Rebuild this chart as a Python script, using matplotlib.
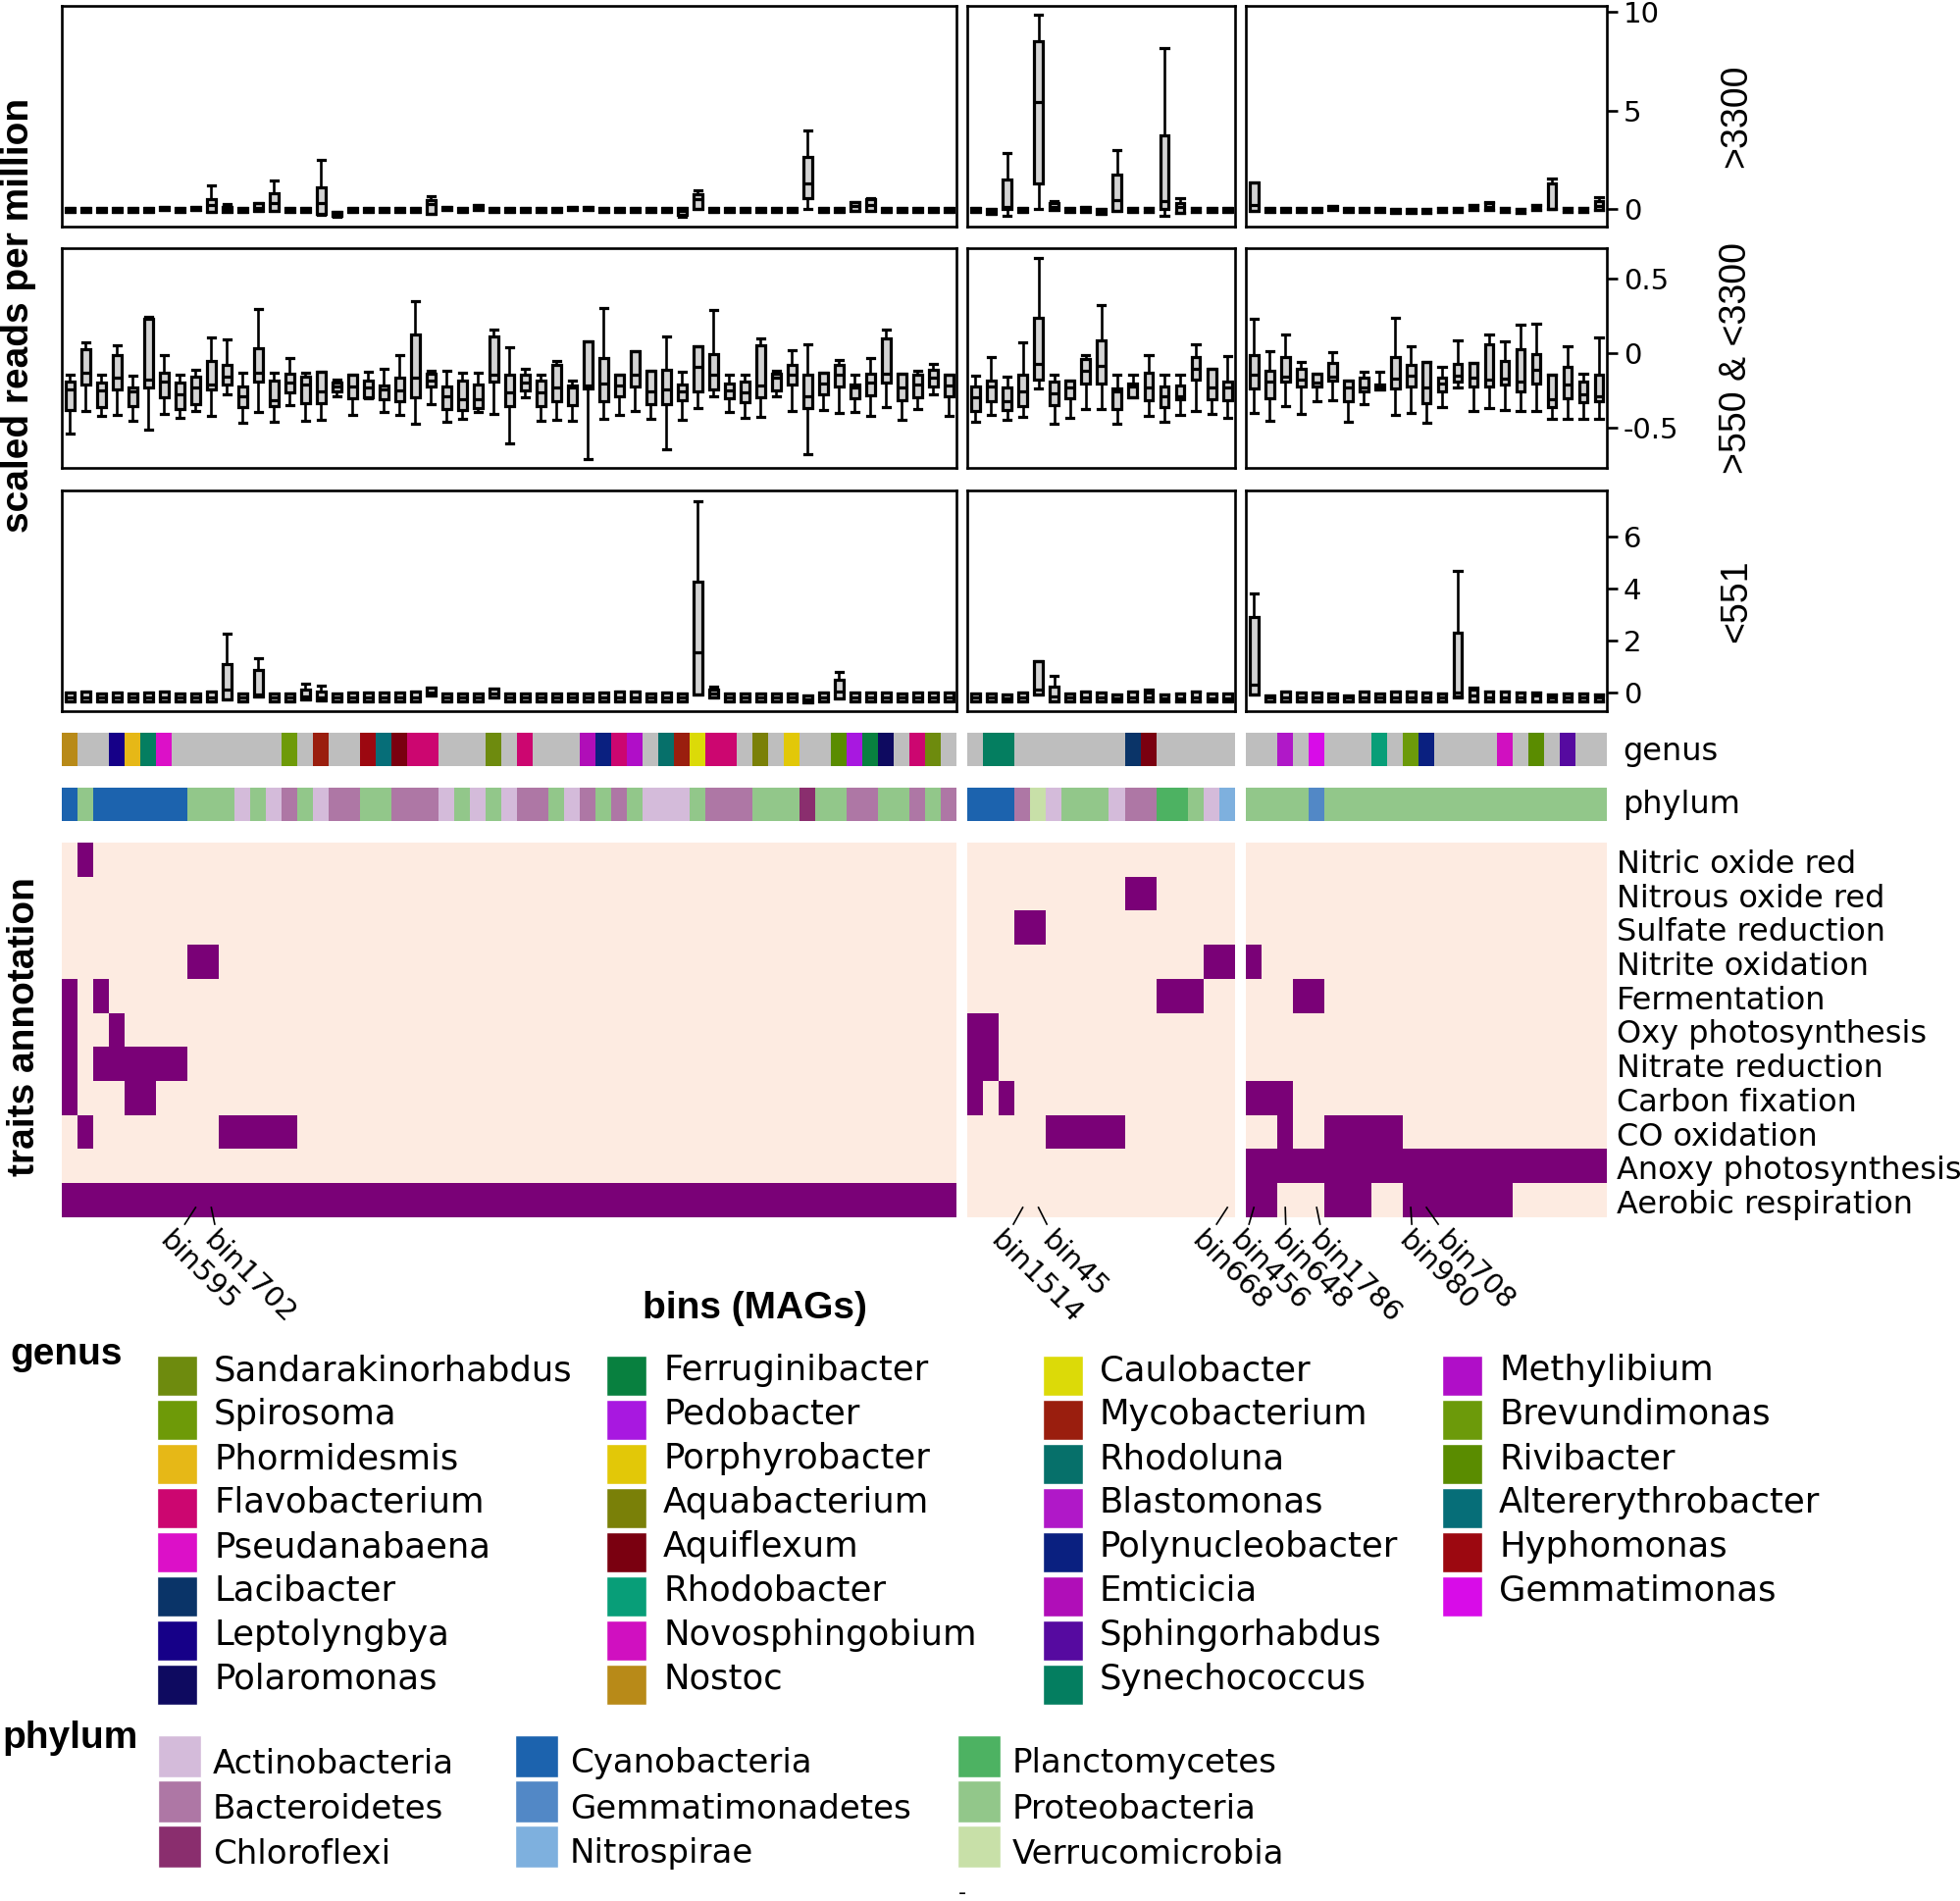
import matplotlib
matplotlib.use("Agg")
import matplotlib.pyplot as plt
from matplotlib.colors import ListedColormap, to_rgb
from matplotlib.lines import Line2D
from matplotlib.patches import Rectangle
import numpy as np

plt.rcParams['font.family'] = ['DejaVu Sans']
plt.rcParams['axes.unicode_minus'] = False

# ------------------------------------------------------------------ data
panel_sizes = [57, 17, 23]          # bins per column panel
row_names = [">3300", ">550 & <3300", "<551"]
row_ticks = [[0, 5, 10], [-0.5, 0, 0.5], [0, 2, 4, 6]]
row_ticklabels = [["0", "5", "10"], ["-0.5", "0", "0.5"], ["0", "2", "4", "6"]]
row_ylims = [(-0.86, 10.29), (-0.77, 0.70), (-0.72, 7.79)]

# ---- row 1 (>3300): left 57 | middle 17 | right 23
r1_q1 = [-0.15,-0.15,-0.15,-0.15,-0.15,-0.15,-0.05,-0.15,-0.05,-0.13, -0.13,-0.15,-0.08,-0.08,-0.15,-0.15,-0.25,-0.35,-0.15,-0.15,
         -0.15,-0.15,-0.15,-0.25,-0.05,-0.15,-0.05,-0.15,-0.15,-0.15, -0.15,-0.15,-0.05,-0.05,-0.15,-0.15,-0.15,-0.15,-0.15,-0.3,
         0.0,-0.15,-0.15,-0.15,-0.15,-0.15,-0.15,0.55,-0.15,-0.15, -0.08,-0.08,-0.15,-0.15,-0.15,-0.15,-0.15,
         -0.15,-0.25,0.0,-0.15,1.32,-0.05,-0.15,-0.15,-0.25,-0.08,-0.15,-0.15,0.0,-0.2,-0.15,-0.15,-0.15,
         -0.08,-0.15,-0.15,-0.15,-0.15,-0.05,-0.15,-0.15,-0.15,-0.2,-0.2,-0.2,-0.15,-0.15,-0.05,-0.05,-0.15,-0.2,-0.05,0.0,-0.15,-0.15,-0.05]
r1_med = [-0.03,-0.03,-0.03,-0.03,-0.03,-0.03,0.0,-0.03,0.0,0.2, 0.0,-0.03,0.08,0.33,-0.03,-0.03,0.33,-0.25,-0.03,-0.03,
          -0.03,-0.03,-0.03,0.25,0.0,-0.03,0.05,-0.03,-0.03,-0.03, -0.03,-0.03,0.0,0.0,-0.03,-0.03,-0.03,-0.03,-0.03,-0.1,
          0.5,-0.03,-0.03,-0.03,-0.03,-0.03,-0.03,1.3,-0.03,-0.03, 0.15,0.2,-0.03,-0.03,-0.03,-0.03,-0.03,
          -0.03,-0.12,0.1,-0.03,5.45,0.1,-0.03,-0.03,-0.12,0.45,-0.03,-0.03,0.4,0.1,-0.03,-0.03,-0.03,
          0.2,-0.03,-0.03,-0.03,-0.03,0.05,-0.03,-0.03,-0.03,-0.08,-0.08,-0.08,-0.03,-0.03,0.05,0.1,-0.03,-0.08,0.05,0.0,-0.03,-0.03,0.15]
r1_q3 = [0.08,0.08,0.08,0.08,0.08,0.08,0.14,0.08,0.12,0.53, 0.12,0.08,0.33,0.83,0.08,0.08,1.13,-0.15,0.08,0.08,
         0.08,0.08,0.08,0.47,0.14,0.08,0.2,0.08,0.08,0.08, 0.08,0.08,0.12,0.12,0.08,0.08,0.08,0.08,0.08,0.08,
         0.75,0.08,0.08,0.08,0.08,0.08,0.08,2.67,0.08,0.08, 0.37,0.53,0.08,0.08,0.08,0.08,0.08,
         0.08,0.02,1.5,0.08,8.5,0.33,0.08,0.12,0.02,1.74,0.08,0.08,3.72,0.33,0.08,0.08,0.08,
         1.35,0.08,0.08,0.08,0.08,0.15,0.08,0.08,0.08,0.02,0.02,0.02,0.08,0.08,0.2,0.33,0.08,0.02,0.2,1.32,0.08,0.08,0.4]
r1_lo = [-0.15,-0.15,-0.15,-0.15,-0.15,-0.15,-0.05,-0.15,-0.05,-0.13, -0.13,-0.15,-0.08,-0.08,-0.15,-0.15,-0.3,-0.38,-0.15,-0.15,
         -0.15,-0.15,-0.15,-0.25,-0.05,-0.15,-0.05,-0.15,-0.15,-0.15, -0.15,-0.15,-0.05,-0.05,-0.15,-0.15,-0.15,-0.15,-0.15,-0.38,
         0.0,-0.15,-0.15,-0.15,-0.15,-0.15,-0.15,0.0,-0.15,-0.15, -0.08,-0.08,-0.15,-0.15,-0.15,-0.15,-0.15,
         -0.15,-0.25,-0.33,-0.15,0.0,-0.05,-0.15,-0.15,-0.25,-0.08,-0.15,-0.15,-0.33,-0.2,-0.15,-0.15,-0.15,
         -0.08,-0.15,-0.15,-0.15,-0.15,-0.05,-0.15,-0.15,-0.15,-0.2,-0.2,-0.2,-0.15,-0.15,-0.05,-0.05,-0.15,-0.2,-0.05,0.0,-0.15,-0.15,-0.05]
r1_hi = [0.08,0.08,0.08,0.08,0.08,0.08,0.14,0.08,0.12,1.2, 0.25,0.08,0.33,1.46,0.08,0.08,2.5,-0.15,0.08,0.08,
         0.08,0.08,0.08,0.67,0.14,0.08,0.2,0.08,0.08,0.08, 0.08,0.08,0.12,0.12,0.08,0.08,0.08,0.08,0.08,0.08,
         0.95,0.08,0.08,0.08,0.08,0.08,0.08,3.97,0.08,0.08, 0.37,0.58,0.08,0.08,0.08,0.08,0.08,
         0.08,0.02,2.85,0.08,9.83,0.4,0.08,0.12,0.02,2.98,0.08,0.08,8.15,0.55,0.08,0.08,0.08,
         1.35,0.08,0.08,0.08,0.08,0.15,0.08,0.08,0.08,0.02,0.02,0.02,0.08,0.08,0.2,0.35,0.08,0.02,0.2,1.57,0.08,0.08,0.62]

# ---- row 2 (>550 & <3300)
r2_lo = [-0.538,-0.385,-0.422,-0.413,-0.451,-0.512,-0.407,-0.435,-0.389,-0.418, -0.275,-0.466,-0.391,-0.457,-0.345,-0.451,-0.444,-0.286,-0.413,-0.301,
         -0.391,-0.413,-0.473,-0.341,-0.457,-0.440,-0.396,-0.407,-0.604,-0.297, -0.455,-0.444,-0.455,-0.710,-0.440,-0.411,-0.385,-0.440,-0.644,-0.444,
         -0.369,-0.292,-0.396,-0.435,-0.429,-0.292,-0.385,-0.675,-0.380,-0.400, -0.391,-0.422,-0.363,-0.446,-0.374,-0.275,-0.418,
         -0.462,-0.413,-0.444,-0.429,-0.237,-0.473,-0.435,-0.374,-0.374,-0.473,-0.297,-0.418,-0.462,-0.413,-0.389,-0.407,-0.435,
         -0.402,-0.451,-0.356,-0.407,-0.325,-0.314,-0.462,-0.341,-0.242,-0.411,-0.400,-0.468,-0.363,-0.231,-0.385,-0.367,-0.378,-0.385,-0.385,-0.440,-0.440,-0.440,-0.440]
r2_q1 = [-0.380,-0.209,-0.363,-0.242,-0.352,-0.231,-0.297,-0.374,-0.341,-0.242, -0.213,-0.358,-0.191,-0.356,-0.264,-0.334,-0.334,-0.253,-0.301,-0.297,
         -0.308,-0.323,-0.297,-0.226,-0.374,-0.380,-0.367,-0.191,-0.352,-0.248, -0.356,-0.323,-0.345,-0.235,-0.319,-0.286,-0.224,-0.341,-0.341,-0.314,
         -0.253,-0.242,-0.301,-0.330,-0.297,-0.248,-0.209,-0.367,-0.275,-0.226, -0.303,-0.281,-0.198,-0.314,-0.297,-0.224,-0.286,
         -0.385,-0.319,-0.378,-0.352,-0.176,-0.345,-0.301,-0.202,-0.204,-0.374,-0.297,-0.312,-0.358,-0.308,-0.180,-0.308,-0.312,
         -0.235,-0.303,-0.191,-0.226,-0.226,-0.187,-0.325,-0.257,-0.242,-0.235,-0.226,-0.334,-0.253,-0.191,-0.224,-0.226,-0.209,-0.257,-0.202,-0.363,-0.301,-0.330,-0.325]
r2_med = [-0.242,-0.132,-0.248,-0.165,-0.253,-0.176,-0.191,-0.275,-0.231,-0.209, -0.160,-0.286,-0.132,-0.314,-0.198,-0.209,-0.253,-0.226,-0.226,-0.231,
          -0.242,-0.248,-0.165,-0.182,-0.286,-0.308,-0.308,-0.143,-0.264,-0.198, -0.264,-0.231,-0.231,-0.220,-0.204,-0.220,-0.143,-0.253,-0.242,-0.257,
          -0.095,-0.147,-0.248,-0.264,-0.220,-0.165,-0.143,-0.292,-0.204,-0.143, -0.231,-0.198,-0.138,-0.231,-0.209,-0.165,-0.220,
          -0.297,-0.226,-0.319,-0.253,-0.070,-0.270,-0.231,-0.121,-0.088,-0.257,-0.226,-0.231,-0.286,-0.286,-0.103,-0.231,-0.231,
          -0.147,-0.191,-0.160,-0.176,-0.198,-0.160,-0.231,-0.231,-0.224,-0.172,-0.154,-0.231,-0.202,-0.154,-0.165,-0.176,-0.169,-0.193,-0.110,-0.308,-0.209,-0.275,-0.292]
r2_q3 = [-0.191,0.029,-0.198,-0.015,-0.231,0.231,-0.132,-0.198,-0.160,-0.055, -0.081,-0.226,0.033,-0.187,-0.138,-0.160,-0.125,-0.198,-0.147,-0.187,
         -0.220,-0.165,0.125,-0.138,-0.226,-0.187,-0.209,0.110,-0.143,-0.143, -0.187,-0.077,-0.220,0.077,-0.033,-0.147,0.015,-0.116,-0.110,-0.209,
         0.048,-0.004,-0.204,-0.193,0.055,-0.138,-0.077,-0.143,-0.132,-0.081, -0.209,-0.136,0.095,-0.136,-0.147,-0.114,-0.143,
         -0.226,-0.182,-0.231,-0.147,0.235,-0.191,-0.182,-0.037,0.084,-0.235,-0.204,-0.132,-0.226,-0.220,-0.026,-0.103,-0.191,
         -0.011,-0.116,-0.026,-0.103,-0.138,-0.066,-0.187,-0.165,-0.209,-0.029,-0.081,-0.062,-0.165,-0.071,-0.066,0.062,-0.055,0.029,-0.004,-0.143,-0.095,-0.191,-0.147]
r2_hi = [-0.147,0.070,-0.147,0.051,-0.149,0.242,-0.015,-0.147,-0.110,0.103, 0.092,-0.132,0.297,-0.132,-0.033,-0.132,-0.125,-0.176,-0.147,-0.125,
         -0.103,-0.015,0.345,-0.116,-0.116,-0.132,-0.132,0.158,0.037,-0.105, -0.143,-0.051,-0.187,0.081,0.301,-0.147,0.015,-0.116,0.114,-0.125,
         0.048,0.286,-0.147,-0.143,0.095,-0.116,0.022,0.062,-0.132,-0.044, -0.147,-0.033,0.160,-0.136,-0.121,-0.073,-0.143,
         -0.149,-0.029,-0.158,0.073,0.637,-0.147,-0.182,-0.011,0.323,-0.147,-0.147,-0.011,-0.143,-0.143,0.062,-0.103,-0.022,
         0.227,0.015,0.127,-0.062,-0.138,0.007,-0.187,-0.125,-0.125,0.235,0.048,-0.062,-0.095,0.088,-0.066,0.125,0.077,0.191,0.198,-0.143,0.044,-0.138,0.105]

# ---- row 3 (<551)
r3_q1 = [-0.33,-0.33,-0.33,-0.33,-0.33,-0.33,-0.33,-0.33,-0.33,-0.33, -0.25,-0.33,-0.15,-0.33,-0.33,-0.25,-0.3,-0.33,-0.33,-0.33,
         -0.33,-0.33,-0.33,-0.13,-0.33,-0.33,-0.33,-0.18,-0.33,-0.33, -0.33,-0.33,-0.33,-0.33,-0.33,-0.33,-0.33,-0.33,-0.33,-0.33,
         -0.09,-0.2,-0.33,-0.33,-0.33,-0.33,-0.33,-0.38,-0.33,-0.21, -0.33,-0.33,-0.33,-0.33,-0.33,-0.33,-0.33,
         -0.33,-0.33,-0.33,-0.33,-0.09,-0.34,-0.33,-0.33,-0.33,-0.33,-0.33,-0.33,-0.33,-0.33,-0.33,-0.33,-0.33,
         -0.09,-0.33,-0.33,-0.33,-0.33,-0.33,-0.33,-0.33,-0.33,-0.33,-0.33,-0.33,-0.33,-0.15,-0.33,-0.33,-0.33,-0.33,-0.33,-0.33,-0.33,-0.33,-0.33]
r3_med = [-0.18,-0.18,-0.18,-0.18,-0.18,-0.18,-0.18,-0.18,-0.18,-0.18, 0.1,-0.18,-0.09,-0.18,-0.18,-0.15,-0.18,-0.18,-0.18,-0.18,
          -0.18,-0.18,-0.18,0.0,-0.18,-0.18,-0.18,-0.05,-0.18,-0.18, -0.18,-0.18,-0.18,-0.18,-0.18,-0.18,-0.18,-0.18,-0.18,-0.18,
          1.55,-0.05,-0.18,-0.18,-0.18,-0.18,-0.18,-0.25,-0.18,0.05, -0.18,-0.18,-0.18,-0.18,-0.18,-0.18,-0.18,
          -0.18,-0.18,-0.22,-0.18,0.1,-0.15,-0.18,-0.18,-0.18,-0.22,-0.18,-0.18,-0.22,-0.22,-0.18,-0.22,-0.22,
          0.29,-0.18,-0.18,-0.18,-0.18,-0.18,-0.18,-0.18,-0.18,-0.2,-0.18,-0.18,-0.18,0.0,-0.1,-0.18,-0.18,-0.18,-0.1,-0.2,-0.18,-0.18,-0.18]
r3_q3 = [0.0,0.05,-0.05,0.0,-0.05,-0.02,0.05,-0.05,-0.05,0.05, 1.08,-0.05,0.86,-0.05,-0.05,0.13,0.04,-0.05,-0.02,-0.02,
         -0.02,-0.02,0.05,0.18,-0.05,-0.05,-0.05,0.16,-0.05,-0.05, -0.05,-0.05,-0.05,-0.05,-0.02,0.05,0.05,-0.05,0.0,-0.05,
         4.26,0.12,-0.05,-0.05,-0.05,-0.05,-0.05,-0.12,-0.02,0.48, -0.02,-0.02,0.0,-0.05,-0.02,-0.02,0.0,
         -0.05,-0.05,-0.08,0.0,1.21,0.23,-0.05,0.02,-0.02,-0.08,0.02,-0.02,-0.08,-0.05,0.05,-0.05,-0.05,
         2.9,-0.1,0.05,0.0,-0.02,-0.05,-0.1,0.05,-0.05,0.05,0.05,-0.02,-0.05,2.31,0.1,0.02,0.02,0.0,-0.02,-0.08,-0.05,-0.05,-0.08]
r3_lo = [-0.33,-0.33,-0.33,-0.33,-0.33,-0.33,-0.33,-0.33,-0.33,-0.33, -0.25,-0.33,-0.15,-0.33,-0.33,-0.25,-0.3,-0.33,-0.33,-0.33,
         -0.33,-0.33,-0.33,-0.13,-0.33,-0.33,-0.33,-0.18,-0.33,-0.33, -0.33,-0.33,-0.33,-0.33,-0.33,-0.33,-0.33,-0.33,-0.33,-0.33,
         -0.09,-0.2,-0.33,-0.33,-0.33,-0.33,-0.33,-0.38,-0.33,-0.21, -0.33,-0.33,-0.33,-0.33,-0.33,-0.33,-0.33,
         -0.33,-0.33,-0.33,-0.33,-0.09,-0.34,-0.33,-0.33,-0.33,-0.33,-0.33,-0.33,-0.33,-0.33,-0.33,-0.33,-0.33,
         -0.09,-0.33,-0.33,-0.33,-0.33,-0.33,-0.33,-0.33,-0.33,-0.33,-0.33,-0.33,-0.33,-0.2,-0.33,-0.33,-0.33,-0.33,-0.33,-0.33,-0.33,-0.33,-0.33]
r3_hi = [0.0,0.05,-0.05,0.0,-0.05,-0.02,0.05,-0.05,-0.05,0.05, 2.27,-0.05,1.32,-0.05,-0.05,0.33,0.25,-0.05,-0.02,-0.02,
         -0.02,-0.02,0.05,0.18,-0.05,-0.05,-0.05,0.16,-0.05,-0.05, -0.05,-0.05,-0.05,-0.05,-0.02,0.05,0.05,-0.05,0.0,-0.05,
         7.39,0.23,-0.05,-0.05,-0.05,-0.05,-0.05,-0.12,-0.02,0.79, -0.02,-0.02,0.0,-0.05,-0.02,-0.02,0.0,
         -0.05,-0.05,-0.08,0.0,1.21,0.63,-0.05,0.02,-0.02,-0.08,0.02,0.1,-0.08,-0.05,0.05,-0.05,-0.05,
         3.82,-0.1,0.05,0.0,-0.02,-0.05,-0.1,0.05,-0.05,0.05,0.05,-0.02,-0.05,4.68,0.17,0.02,0.02,0.0,-0.02,-0.08,-0.05,-0.05,-0.08]

# ---- genus and phylum of each bin (left | middle | right)
genus_left = ["Nostoc", "NA", "NA", "Leptolyngbya", "Phormidesmis", "Synechococcus", "Pseudanabaena",
              "NA", "NA", "NA", "NA", "NA", "NA", "NA", "Spirosoma", "NA", "Mycobacterium", "NA", "NA",
              "Hyphomonas", "Altererythrobacter", "Aquiflexum", "Flavobacterium", "Flavobacterium",
              "NA", "NA", "NA", "Sandarakinorhabdus", "NA", "Flavobacterium", "NA", "NA", "NA",
              "Emticicia", "Polynucleobacter", "Flavobacterium", "Methylibium", "NA", "Rhodoluna",
              "Mycobacterium", "Caulobacter", "Flavobacterium", "Flavobacterium", "NA", "Aquabacterium",
              "NA", "Porphyrobacter", "NA", "NA", "Rivibacter", "Pedobacter", "Ferruginibacter",
              "Polaromonas", "NA", "Flavobacterium", "Sandarakinorhabdus", "NA"]
genus_mid = ["NA", "Synechococcus", "Synechococcus", "NA", "NA", "NA", "NA", "NA", "NA", "NA",
             "Lacibacter", "Aquiflexum", "NA", "NA", "NA", "NA", "NA"]
genus_right = ["NA", "NA", "Blastomonas", "NA", "Gemmatimonas", "NA", "NA", "NA", "Rhodobacter", "NA",
               "Brevundimonas", "Polynucleobacter", "NA", "NA", "NA", "NA", "Novosphingobium", "NA",
               "Rivibacter", "NA", "Sphingorhabdus", "NA", "NA"]

AC, BA, CH, CY, GE, NI, PL, PR, VE = ("Actinobacteria", "Bacteroidetes", "Chloroflexi", "Cyanobacteria",
                                      "Gemmatimonadetes", "Nitrospirae", "Planctomycetes",
                                      "Proteobacteria", "Verrucomicrobia")
phylum_left = [CY, PR, CY, CY, CY, CY, CY, CY, PR, PR,  PR, AC, PR, AC, BA, PR, AC, BA, BA, PR,
               PR, BA, BA, BA, AC, PR, AC, PR, AC, BA,  BA, PR, AC, BA, PR, BA, PR, AC, AC, AC,
               PR, BA, BA, BA, PR, PR, PR, CH, PR, PR,  BA, BA, PR, PR, BA, PR, BA]
phylum_mid = [CY, CY, CY, BA, VE, AC, PR, PR, PR, AC, BA, BA, PL, PL, PR, AC, NI]
phylum_right = [PR, PR, PR, PR, GE, PR, PR, PR, PR, PR, PR, PR, PR, PR, PR, PR, PR, PR, PR, PR, PR, PR, PR]

# ---- trait presence (1 = present), one string per panel
traits = ["Nitric oxide red", "Nitrous oxide red", "Sulfate reduction", "Nitrite oxidation",
          "Fermentation", "Oxy photosynthesis", "Nitrate reduction", "Carbon fixation",
          "CO oxidation", "Anoxy photosynthesis", "Aerobic respiration"]
traits_left = [
    "0100000000 0000000000 0000000000 0000000000 0000000000 0000000",
    "0000000000 0000000000 0000000000 0000000000 0000000000 0000000",
    "0000000000 0000000000 0000000000 0000000000 0000000000 0000000",
    "0000000011 0000000000 0000000000 0000000000 0000000000 0000000",
    "1010000000 0000000000 0000000000 0000000000 0000000000 0000000",
    "1001000000 0000000000 0000000000 0000000000 0000000000 0000000",
    "1011111100 0000000000 0000000000 0000000000 0000000000 0000000",
    "1000110000 0000000000 0000000000 0000000000 0000000000 0000000",
    "0100000000 1111100000 0000000000 0000000000 0000000000 0000000",
    "0000000000 0000000000 0000000000 0000000000 0000000000 0000000",
    "1111111111 1111111111 1111111111 1111111111 1111111111 1111111",
]
traits_mid = [
    "0000000000 0000000",
    "0000000000 1100000",
    "0001100000 0000000",
    "0000000000 0000011",
    "0000000000 0011100",
    "1100000000 0000000",
    "1100000000 0000000",
    "1010000000 0000000",
    "0000011111 0000000",
    "0000000000 0000000",
    "0000000000 0000000",
]
traits_right = [
    "0000000000 0000000000 000",
    "0000000000 0000000000 000",
    "0000000000 0000000000 000",
    "1000000000 0000000000 000",
    "0001100000 0000000000 000",
    "0000000000 0000000000 000",
    "0000000000 0000000000 000",
    "1110000000 0000000000 000",
    "0010011111 0000000000 000",
    "1111111111 1111111111 111",
    "1100011100 1111111000 000",
]

# ---- labelled bins on the x axis: (panel, bin, label)
x_labels = [(0, 8, "bin595"), (0, 9, "bin1702"), (1, 3, "bin1514"), (1, 4, "bin45"),
            (1, 16, "bin668"), (2, 0, "bin456"), (2, 2, "bin648"), (2, 4, "bin1786"),
            (2, 10, "bin980"), (2, 11, "bin708")]

# ---- legends
genus_order = ["Sandarakinorhabdus", "Spirosoma", "Phormidesmis", "Flavobacterium", "Pseudanabaena",
               "Lacibacter", "Leptolyngbya", "Polaromonas",
               "Ferruginibacter", "Pedobacter", "Porphyrobacter", "Aquabacterium", "Aquiflexum",
               "Rhodobacter", "Novosphingobium", "Nostoc",
               "Caulobacter", "Mycobacterium", "Rhodoluna", "Blastomonas", "Polynucleobacter",
               "Emticicia", "Sphingorhabdus", "Synechococcus",
               "Methylibium", "Brevundimonas", "Rivibacter", "Altererythrobacter", "Hyphomonas",
               "Gemmatimonas"]
genus_colors = {
    "Sandarakinorhabdus": "#6E8B0E", "Spirosoma": "#6E9A08", "Phormidesmis": "#E6B817",
    "Flavobacterium": "#CC0670", "Pseudanabaena": "#DC10C8", "Lacibacter": "#0A3468",
    "Leptolyngbya": "#160088", "Polaromonas": "#0E0A60", "Ferruginibacter": "#08803F",
    "Pedobacter": "#A818E0", "Porphyrobacter": "#E2C808", "Aquabacterium": "#7A8008",
    "Aquiflexum": "#7A0010", "Rhodobacter": "#089E78", "Novosphingobium": "#D010C0",
    "Nostoc": "#B88A18", "Caulobacter": "#DCDA08", "Mycobacterium": "#9A1E0E",
    "Rhodoluna": "#06706A", "Blastomonas": "#B018C8", "Polynucleobacter": "#0A2080",
    "Emticicia": "#B00EB8", "Sphingorhabdus": "#560AA0", "Synechococcus": "#047E60",
    "Methylibium": "#B00EC8", "Brevundimonas": "#6C9A0A", "Rivibacter": "#5A8C00",
    "Altererythrobacter": "#066E78", "Hyphomonas": "#9C0810", "Gemmatimonas": "#D80CE8",
    "NA": "#BEBEBE"}
phylum_order = [AC, BA, CH, CY, GE, NI, PL, PR, VE]
phylum_colors = {AC: "#D4BBDA", BA: "#AE77A5", CH: "#8A2E6E", CY: "#1C63AE", GE: "#5288C6",
                 NI: "#7EB0DE", PL: "#4DB262", PR: "#92C78A", VE: "#C8E0A8"}
heat_colors = ["#FDEBE1", "#7A0177"]

# ------------------------------------------------------------------ layout (pixels)
W, H = 1998, 1938
col_x = [(63.4, 975.3), (986.4, 1259.2), (1270.2, 1638.0)]
row_y = [(6, 230.7), (253.3, 477.3), (500, 725)]
genus_y = (747, 781)
phylum_y = (803, 837)
heat_y = (859, 1241)
LW = 1.9
LW_BOX = 2.3
TITLE_FONT = dict(family=['Liberation Sans', 'DejaVu Sans'], fontweight='bold', fontsize=28)

fig = plt.figure(figsize=(W / 100, H / 100), dpi=100)
fig.patch.set_facecolor('white')


def add_ax(x0, x1, y0, y1):
    return fig.add_axes([x0 / W, 1 - y1 / H, (x1 - x0) / W, (y1 - y0) / H])


rows_data = [(r1_lo, r1_q1, r1_med, r1_q3, r1_hi),
             (r2_lo, r2_q1, r2_med, r2_q3, r2_hi),
             (r3_lo, r3_q1, r3_med, r3_q3, r3_hi)]

for r, (lo, q1, med, q3, hi) in enumerate(rows_data):
    start = 0
    for c, n in enumerate(panel_sizes):
        ax = add_ax(col_x[c][0], col_x[c][1], row_y[r][0], row_y[r][1])
        stats = [dict(whislo=lo[i], q1=q1[i], med=med[i], q3=q3[i], whishi=hi[i], fliers=[])
                 for i in range(start, start + n)]
        ax.bxp(stats, positions=list(range(n)), widths=0.55, patch_artist=True, showfliers=False,
               capwidths=0.45,
               boxprops=dict(facecolor='#D3D3D3', edgecolor='black', linewidth=LW_BOX),
               medianprops=dict(color='black', linewidth=LW_BOX, solid_capstyle='butt'),
               whiskerprops=dict(color='black', linewidth=LW),
               capprops=dict(color='black', linewidth=LW_BOX))
        ax.set_xlim(-0.5, n - 0.5)
        ax.set_ylim(*row_ylims[r])
        ax.set_xticks([])
        for sp in ax.spines.values():
            sp.set_linewidth(LW)
            sp.set_color('black')
        if c == 2:
            ax.yaxis.tick_right()
            ax.set_yticks(row_ticks[r])
            ax.set_yticklabels(row_ticklabels[r])
            ax.tick_params(axis='y', right=True, left=False, length=8, width=LW, pad=4,
                           labelsize=21, colors='black')
        else:
            ax.set_yticks([])
        start += n
    yc = (row_y[r][0] + row_y[r][1]) / 2
    fig.text(1770 / W, 1 - yc / H, row_names[r], rotation=90, ha='center', va='center',
             fontsize=27, family=['Liberation Sans', 'DejaVu Sans'])

# genus / phylum strips and trait heatmap
genus_panels = [genus_left, genus_mid, genus_right]
phylum_panels = [phylum_left, phylum_mid, phylum_right]
trait_panels = [traits_left, traits_mid, traits_right]
heat_axes = []
for c, n in enumerate(panel_sizes):
    axg = add_ax(col_x[c][0], col_x[c][1], genus_y[0], genus_y[1])
    rgb = np.array([[to_rgb(genus_colors[g]) for g in genus_panels[c]]])
    axg.imshow(rgb, aspect='auto', interpolation='nearest', extent=(-0.5, n - 0.5, 0, 1))
    axg.axis('off')

    axp = add_ax(col_x[c][0], col_x[c][1], phylum_y[0], phylum_y[1])
    rgb = np.array([[to_rgb(phylum_colors[p]) for p in phylum_panels[c]]])
    axp.imshow(rgb, aspect='auto', interpolation='nearest', extent=(-0.5, n - 0.5, 0, 1))
    axp.axis('off')

    axh = add_ax(col_x[c][0], col_x[c][1], heat_y[0], heat_y[1])
    mat = np.array([[int(ch) for ch in s.replace(" ", "")] for s in trait_panels[c]])
    axh.imshow(mat, aspect='auto', interpolation='nearest', cmap=ListedColormap(heat_colors),
               vmin=0, vmax=1, extent=(-0.5, n - 0.5, len(traits) - 0.5, -0.5))
    axh.set_xlim(-0.5, n - 0.5)
    axh.axis('off')
    heat_axes.append(axh)

fig.text(1654 / W, 1 - ((genus_y[0] + genus_y[1]) / 2 + 3) / H, "genus", ha='left', va='center', fontsize=23)
fig.text(1654 / W, 1 - (phylum_y[0] + phylum_y[1]) / 2 / H, "phylum", ha='left', va='center', fontsize=23)
row_h = (heat_y[1] - heat_y[0]) / len(traits)
for i, t in enumerate(traits):
    fig.text(1648 / W, 1 - (heat_y[0] + (i + 0.5) * row_h + 5) / H, t, ha='left', va='center', fontsize=23)

# x-axis labels (repelled, with connector segments)
label_dx = [-22, 7, -19, 17, -22, -10, 1, 7, 2, 24]
fig.canvas.draw()
for (p, b, lab), dx in zip(x_labels, label_dx):
    xt = heat_axes[p].transData.transform((b, 0))[0]
    fig.add_artist(Line2D([xt / W, (xt + dx * 0.5) / W], [1 - 1231 / H, 1 - 1248 / H],
                          transform=fig.transFigure, color='black', lw=1.2))
    fig.text((xt + dx) / W, 1 - 1250 / H, lab, rotation=-45, rotation_mode='anchor',
             ha='left', va='top', fontsize=21)

# axis titles
fig.text(19 / W, 1 - 321 / H, "scaled reads per million", rotation=90, ha='center', va='center', **TITLE_FONT)
fig.text(25 / W, 1 - 1047 / H, "traits annotation", rotation=90, ha='center', va='center', **TITLE_FONT)
fig.text(769 / W, 1 - 1334 / H, "bins (MAGs)", ha='center', va='center', **TITLE_FONT)

# genus legend
fig.text(10 / W, 1 - 1381 / H, "genus", ha='left', va='center', **TITLE_FONT)
g_cols_x = [160, 618, 1063, 1470]
for k, g in enumerate(genus_order):
    col, row = divmod(k, 8)
    x0 = g_cols_x[col]
    top = 1382 + 45 * row
    fig.add_artist(Rectangle((x0 / W, 1 - (top + 41) / H), 41 / W, 41 / H,
                             transform=fig.transFigure, facecolor=genus_colors[g],
                             edgecolor='white', lw=1))
    fig.text((x0 + 58) / W, 1 - (top + 15) / H, g, ha='left', va='center', fontsize=25.5)

# phylum legend
fig.text(2 / W, 1 - 1772 / H, "phylum", ha='left', va='center', **TITLE_FONT)
p_cols_x = [161, 525, 976]
for k, p in enumerate(phylum_order):
    col, row = divmod(k, 3)
    x0 = p_cols_x[col]
    top = 1769 + 46 * row
    fig.add_artist(Rectangle((x0 / W, 1 - (top + 43) / H), 44 / W, 43 / H,
                             transform=fig.transFigure, facecolor=phylum_colors[p],
                             edgecolor='white', lw=1))
    fig.text((x0 + 56) / W, 1 - (top + 29) / H, p, ha='left', va='center', fontsize=24.5)

fig.text(981 / W, 1 - 1930 / H, "-", ha='center', va='center', fontsize=16)

fig.savefig("out.png", dpi=100, facecolor='white')
